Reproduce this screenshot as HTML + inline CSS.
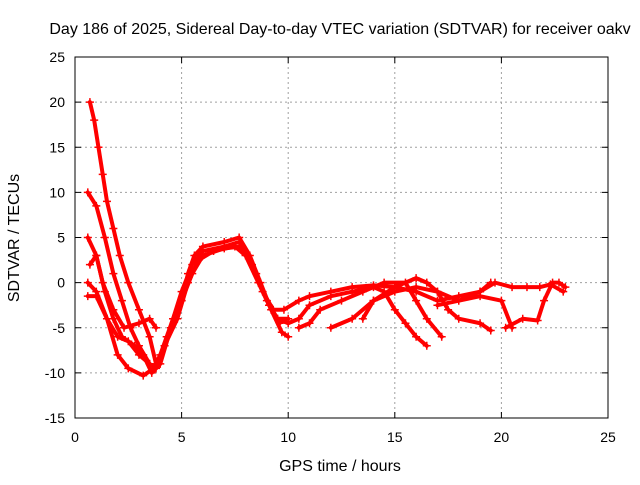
<!DOCTYPE html>
<html><head><meta charset="utf-8"><style>
body{margin:0;background:#fff;}
text{font-family:"Liberation Sans",sans-serif;font-size:14px;fill:#000;}
.big{font-size:16px;}
</style></head><body>
<svg id="chart" width="640" height="480">
<rect width="640" height="480" fill="#fff"/>
<text class="big" x="340" y="34" text-anchor="middle">Day 186 of 2025, Sidereal Day-to-day VTEC variation (SDTVAR) for receiver oakv</text>
<text class="big" x="340" y="471" text-anchor="middle">GPS time / hours</text>
<text class="big" transform="translate(19,238) rotate(-90)" text-anchor="middle">SDTVAR / TECUs</text>
<g id="grid"></g>
<g id="axes"></g>
<g id="series"></g>
</svg>
<script>
const xTicks=[0,5,10,15,20,25];
const yTicks=[-15,-10,-5,0,5,10,15,20,25];
const trackA=[[0.7,20],[0.9,18],[1.1,15],[1.3,12],[1.5,9],[1.8,6],[2.1,3],[2.5,0],[3,-3],[3.5,-6],[3.8,-9],[4,-8],[4.3,-6],[4.6,-4],[5,-2],[5.3,1],[5.6,3],[6,4],[7,4.5],[7.7,5],[8.2,3],[8.7,0],[9.2,-3],[9.7,-5.5],[10,-6]];
const trackB=[[0.6,10],[1,8.5],[1.4,5],[1.8,1],[2.2,-2],[2.6,-5],[3,-7],[3.5,-9],[3.8,-9.5],[4.2,-7],[4.6,-4],[5,-1],[5.5,2],[6,3.5],[7,4],[7.7,4.5],[8.3,2],[8.8,-1],[9.3,-3],[9.8,-3],[10.5,-2],[11,-1.5],[12,-1],[13,-0.5],[14,-0.3],[15,-0.5],[16,-1],[17,-2],[18,-1.5],[19,-1],[19.5,0]];
const trackC=[[0.6,5],[1,3],[1.4,-1],[1.8,-4],[2.2,-6],[2.8,-7],[3.2,-8],[3.6,-10],[4,-9],[4.5,-5],[5,-2],[5.5,1],[6,3],[7,3.8],[7.8,4],[8.5,1],[9,-2],[9.5,-4],[10,-4]];
const trackD=[[0.7,2],[1,3],[1.3,0],[1.8,-3],[2.3,-5],[3,-4.5],[3.5,-4],[3.8,-5]];
const trackE=[[0.6,0],[1,-1],[1.5,-4],[2,-8],[2.5,-9.5],[3.2,-10.3],[3.7,-9.5],[4.2,-7],[4.8,-4],[5.3,0],[5.8,2.5],[6.5,3.5],[7.5,4],[8,3],[8.6,0],[9.1,-2.5],[9.6,-4.5]];
const trackF=[[0.6,-1.5],[1,-1.5],[1.5,-4],[2,-6],[2.5,-6.5],[3,-8],[3.5,-9]];
const trackG=[[9.5,-4],[10,-4.5],[10.5,-4],[11,-2.5],[12,-1.5],[13,-1],[14,-0.5],[14.5,-1],[15,-3],[15.5,-4.5],[16,-6],[16.5,-7]];
const trackH=[[10.5,-5],[11,-4.5],[11.5,-3],[12.5,-2],[13.5,-1],[14.5,0],[15.5,0],[16,-2],[16.5,-4],[17.2,-6]];
const trackI=[[12,-5],[13,-4],[14,-2],[15,-0.5],[16,0.5],[16.5,0],[17,-1],[17.5,-3],[18,-4],[19,-4.5],[19.5,-5.3]];
const trackJ=[[13.5,-4],[14,-2],[15,-1],[16,-0.5],[17,-1],[18,-2],[19,-1.5],[20,-2],[20.5,-5]];
const trackK=[[20.2,-5],[21,-4],[21.7,-4.2],[22,-2],[22.4,0],[22.7,0],[23,-0.5]];
const trackL=[[17,-2.5],[18,-2],[19,-1],[19.7,0],[20.5,-0.5],[21.2,-0.5],[21.8,-0.5],[22.3,-0.2],[22.9,-1]];
const tracks=[trackA,trackB,trackC,trackD,trackE,trackF,trackG,trackH,trackI,trackJ,trackK,trackL];
const X0=75,X1=608,Y0=418,Y1=57;
const sx=v=>X0+(v-0)/(25-0)*(X1-X0);
const sy=v=>Y0-(v+15)/40*(Y0-Y1);
const NS='http://www.w3.org/2000/svg';
const grid=document.getElementById('grid'),axes=document.getElementById('axes'),ser=document.getElementById('series');
function mk(tag,attrs,parent){const e=document.createElementNS(NS,tag);for(const k in attrs)e.setAttribute(k,attrs[k]);parent.appendChild(e);return e;}
xTicks.forEach(t=>{const x=sx(t);
 if(t>0&&t<25){const g=mk('line',{x1:x,x2:x,y1:Y1,y2:Y0,stroke:'#a0a0a0','stroke-dasharray':'2,3'},grid);}
 mk('line',{x1:x,x2:x,y1:Y0,y2:Y0-6,stroke:'#000'},axes);mk('line',{x1:x,x2:x,y1:Y1,y2:Y1+6,stroke:'#000'},axes);
 const l=mk('text',{x:x,y:Y0+24,'text-anchor':'middle'},axes);l.textContent=t;
 });
yTicks.forEach(t=>{const y=sy(t);
 if(t>-15&&t<25){const g=mk('line',{x1:X0,x2:X1,y1:y,y2:y,stroke:'#a0a0a0','stroke-dasharray':'2,3'},grid);}
 mk('line',{x1:X0,x2:X0+6,y1:y,y2:y,stroke:'#000'},axes);mk('line',{x1:X1,x2:X1-6,y1:y,y2:y,stroke:'#000'},axes);
 const l=mk('text',{x:X0-10,y:y+5,'text-anchor':'end'},axes);l.textContent=t;
 });
const fr=mk('rect',{x:X0,y:Y1,width:X1-X0,height:Y0-Y1,fill:'none',stroke:'#000'},axes);


tracks.forEach(tr=>{
 const p=mk('polyline',{points:tr.map(d=>sx(d[0])+','+sy(d[1])).join(' '),fill:'none',stroke:'#f00','stroke-width':4,'stroke-linejoin':'round','stroke-linecap':'round'},ser);
 
 
 tr.forEach(d=>{const x=sx(d[0]),y=sy(d[1]);
  const m=mk('path',{d:`M${x-4},${y}H${x+4}M${x},${y-4}V${y+4}`,stroke:'#f00','stroke-width':1.5},ser);
  
  });
});
</script>
</body></html>
